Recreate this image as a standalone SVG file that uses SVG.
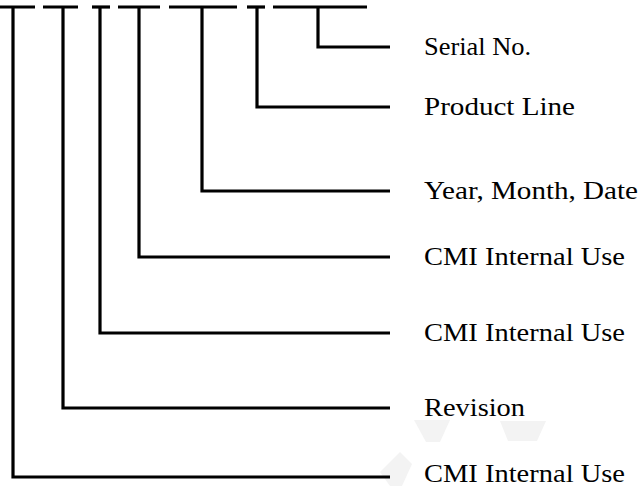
<svg xmlns="http://www.w3.org/2000/svg" width="641" height="488" viewBox="0 0 641 488">
  <style>
    .ln { fill: none; stroke: #000; stroke-width: 3.2; stroke-linejoin: miter; stroke-linecap: butt; }
    .lbl { font-family: "Liberation Serif", "Times New Roman", serif; font-size: 25.5px; fill: #000; }
    .wm { fill: #f3f3f3; }
  </style>
  <rect width="641" height="488" fill="#fff"/>
  <g id="watermark">
    <polygon class="wm" points="380,472 400,452 412,464 402,486 390,486"/>
    <polygon class="wm" points="414,420 450,420 440,442 426,442"/>
    <polygon class="wm" points="500,421 546,421 537,441 508,441"/>
  </g>
  <g id="connectors">
    <g id="top-dashes">
      <path class="ln" d="M0 7 H35"/>
      <path class="ln" d="M43 7 H78"/>
      <path class="ln" d="M92 7 H110"/>
      <path class="ln" d="M118 7 H160"/>
      <path class="ln" d="M169 7 H237"/>
      <path class="ln" d="M247 7 H265"/>
      <path class="ln" d="M273 7 H367"/>
    </g>
    <path class="ln" d="M318 7 V47 H390"/>
    <path class="ln" d="M257 7 V107 H390"/>
    <path class="ln" d="M202 7 V191 H390"/>
    <path class="ln" d="M139 7 V257 H390"/>
    <path class="ln" d="M100 7 V333 H390"/>
    <path class="ln" d="M63 7 V408 H390"/>
    <path class="ln" d="M13 7 V477 H390"/>
  </g>
  <g id="serial-no"><text class="lbl" x="424" y="55" textLength="107" lengthAdjust="spacingAndGlyphs">Serial No.</text></g>
  <g id="product-line"><text class="lbl" x="424" y="115" textLength="151" lengthAdjust="spacingAndGlyphs">Product Line</text></g>
  <g id="year-month-date"><text class="lbl" x="424" y="199" textLength="214" lengthAdjust="spacingAndGlyphs">Year, Month, Date</text></g>
  <g id="cmi-internal-use-1"><text class="lbl" x="424" y="265" textLength="201" lengthAdjust="spacingAndGlyphs">CMI Internal Use</text></g>
  <g id="cmi-internal-use-2"><text class="lbl" x="424" y="341" textLength="201" lengthAdjust="spacingAndGlyphs">CMI Internal Use</text></g>
  <g id="revision"><text class="lbl" x="424" y="416" textLength="101" lengthAdjust="spacingAndGlyphs">Revision</text></g>
  <g id="cmi-internal-use-3"><text class="lbl" x="424" y="482" textLength="201" lengthAdjust="spacingAndGlyphs">CMI Internal Use</text></g>
</svg>
